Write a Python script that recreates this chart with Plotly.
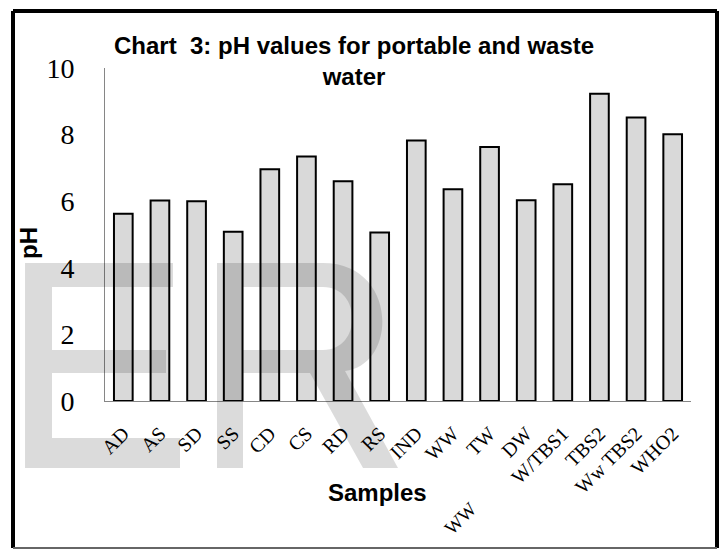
import plotly.graph_objects as go

# ---- data ----
samples = ["AD", "AS", "SD", "SS", "CD", "CS", "RD", "RS", "IND", "WW", "TW", "DW",
           "W/TBS1", "TBS2", "Ww TBS2", "WHO2"]
ph_values = [5.62, 6.02, 6.0, 5.08, 6.96, 7.34, 6.6, 5.06, 7.82, 6.36, 7.63, 6.03,
             6.51, 9.23, 8.51, 8.01]
y_ticks = [0, 2, 4, 6, 8, 10]

W, H = 723, 549
L, R, T, B = 105, 691, 68, 401


def px(x):
    return (x - L) / (R - L)


def py(y):
    return (B - y) / (B - T)


def path(points_cmds):
    out = []
    for cmd, pts in points_cmds:
        coords = " ".join(f"{px(x):.4f},{py(y):.4f}" for x, y in pts)
        out.append(f"{cmd}{coords}")
    return " ".join(out) + " Z"


fig = go.Figure()
fig.add_trace(go.Bar(
    x=samples, y=ph_values,
    marker=dict(color="#d9d9d9", line=dict(color="#000000", width=2)),
    hoverinfo="x+y",
))

shapes = []
wm = "rgba(0,0,0,0.14)"
# watermark "E"
e_pts = [(25, 263), (173, 263), (173, 287), (52, 287), (52, 350), (166, 350),
         (166, 373), (52, 373), (52, 438), (180, 438), (180, 468), (25, 468)]
e_path = "M" + " L".join(f"{px(x):.4f},{py(y):.4f}" for x, y in e_pts) + " Z"
shapes.append(dict(type="path", xref="paper", yref="paper", path=e_path,
                   fillcolor=wm, line=dict(width=0), layer="above"))
# watermark "R"
outer = path([("M", [(217, 468)]), ("L", [(217, 263)]), ("L", [(323, 263)]),
              ("C", [(398, 263), (398, 365), (345, 371)]), ("L", [(398, 468)]),
              ("L", [(363, 468)]), ("L", [(310, 373)]), ("L", [(243, 373)]),
              ("L", [(243, 468)])])
hole = path([("M", [(243, 287)]), ("L", [(243, 350)]), ("L", [(323, 350)]),
             ("C", [(362, 350), (362, 287), (323, 287)])])
shapes.append(dict(type="path", xref="paper", yref="paper", path=outer + " " + hole,
                   fillcolor=wm, line=dict(width=0), layer="above"))

# outer frame
for (x0, y0, x1, y1, c, w) in [(13, 11, 13, 548, "#000", 4), (13, 11, 717, 11, "#000", 4),
                               (717, 11, 717, 548, "#000", 4), (13, 548, 717, 548, "#666", 2)]:
    shapes.append(dict(type="line", xref="paper", yref="paper",
                       x0=px(x0), y0=py(y0), x1=px(x1), y1=py(y1),
                       line=dict(color=c, width=w)))

annotations = [
    dict(text="<b>Chart\u00a0 3: pH values for portable and waste</b><br><b>water</b>",
         xref="paper", yref="paper", x=px(354), y=py(30), xanchor="center", yanchor="top",
         showarrow=False, font=dict(family="Liberation Sans", size=24, color="#000"),
         align="center"),
    dict(text="<b>Samples</b>", xref="paper", yref="paper", x=px(377), y=py(492),
         xanchor="center", yanchor="middle", showarrow=False,
         font=dict(family="Liberation Sans", size=24, color="#000")),
    dict(text="<b>pH</b>", xref="paper", yref="paper", x=px(28), y=py(243),
         xanchor="center", yanchor="middle", showarrow=False, textangle=-90,
         font=dict(family="Liberation Sans", size=24, color="#000")),
    dict(text="WW", xref="paper", yref="paper", x=px(460), y=py(518),
         xanchor="center", yanchor="middle", showarrow=False, textangle=-45,
         font=dict(family="Liberation Serif", size=19, color="#000")),
]

fig.update_layout(
    width=W, height=H,
    margin=dict(l=L, r=W - R, t=T, b=H - B, pad=0),
    paper_bgcolor="white", plot_bgcolor="white",
    showlegend=False, bargap=0.49,
    shapes=shapes, annotations=annotations,
    xaxis=dict(showline=True, linecolor="#868686", linewidth=1, showgrid=False,
               ticks="", tickangle=-45, ticklabelstandoff=12,
               tickfont=dict(family="Liberation Serif", size=20, color="#000")),
    yaxis=dict(range=[0, 10], tickvals=y_ticks, showline=True, linecolor="#868686",
               linewidth=1, showgrid=False, zeroline=False, ticks="",
               ticklabelstandoff=24,
               tickfont=dict(family="Liberation Serif", size=28, color="#000")),
)

fig.write_html("out.html")
